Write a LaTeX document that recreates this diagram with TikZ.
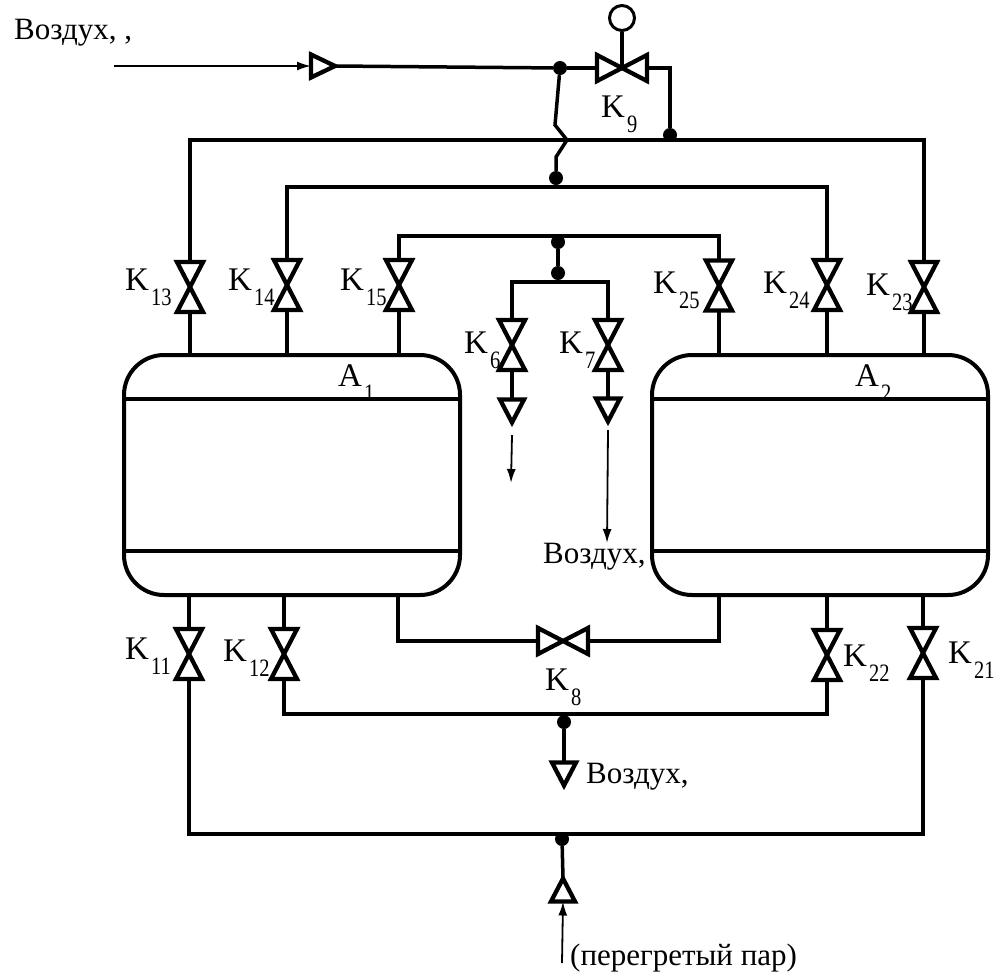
\documentclass[tikz,border=0pt]{standalone}
\usepackage{fontspec}
\setmainfont{Liberation Serif}
\usepackage{graphicx}
\usepackage{tikz}
\usetikzlibrary{arrows.meta}
\newcommand{\idx}[1]{\kern2pt\raisebox{-15pt}{\scalebox{.82}[1]{\fontsize{25}{25}\selectfont #1}}}

\begin{document}
\begin{tikzpicture}[x=1pt,y=-1pt,font=\fontsize{31}{33}\selectfont]
	\tikzstyle{pipe}=[line width=3.5pt]
	\tikzstyle{body}=[line width=4.3pt]
	\tikzstyle{thin flow}=[line width=1.8pt,-{Latex[length=14pt,width=9pt]}]
	\tikzstyle{vertex}=[circle,fill=black,minimum size=14pt,inner sep=0pt]
	\tikzstyle{valve}=[rectangle,inner sep=0pt,outer sep=0pt,minimum width=26pt,minimum height=50pt]
	\tikzstyle{valve h}=[valve,minimum width=50pt,minimum height=26pt]
	\tikzstyle{check}=[rectangle,inner sep=0pt,outer sep=0pt,minimum width=24pt,minimum height=23pt]
	\tikzstyle{shell}=[draw=black,rectangle,rounded corners=40pt,line width=4pt,minimum width=336pt,minimum height=240pt,inner sep=0pt,outer sep=0pt]
	\tikzstyle{gauge}=[draw=black,circle,line width=3pt,minimum size=25pt,inner sep=0pt]
	\tikzstyle{lbl}=[anchor=base west,inner sep=0pt]
	\tikzstyle{tag}=[lbl,font=\fontsize{33}{35}\selectfont]
	\useasboundingbox (0,0) rectangle (1000,978);

	% Draw the adsorbers
	\node[shell] (a1) at (292,475) {};
	\node[shell] (a2) at (820,475) {};
	\foreach \t in {a1,a2} {
		\draw[pipe] ([yshift=-44pt]\t.north west) -- ([yshift=-44pt]\t.north east);
		\draw[pipe] ([yshift=44pt]\t.south west) -- ([yshift=44pt]\t.south east);
	}

	% Draw the valves
	\node[valve] (k13) at (190,287) {};
	\node[valve] (k14) at (287,285) {};
	\node[valve] (k15) at (399,285) {};
	\node[valve] (k25) at (719,285.5) {};
	\node[valve] (k24) at (827,285) {};
	\node[valve] (k23) at (924,287) {};
	\node[valve] (k6) at (512,345) {};
	\node[valve] (k7) at (608,345) {};
	\node[valve] (k11) at (189,654) {};
	\node[valve] (k12) at (284,654) {};
	\node[valve] (k22) at (827,655) {};
	\node[valve] (k21) at (923,653) {};
	\node[valve h] (k9) at (622,68) {};
	\node[valve h] (k8) at (563,641) {};
	\foreach \v in {k13,k14,k15,k25,k24,k23,k6,k7,k11,k12,k22,k21}
		\draw[body] (\v.north west) -- (\v.north east) -- (\v.south west) -- (\v.south east) -- cycle;
	\foreach \v in {k9,k8}
		\draw[body] (\v.north west) -- (\v.south west) -- (\v.north east) -- (\v.south east) -- cycle;

	% Draw the one-way triangles
	\node[check] (in_air) at (323,66) {};
	\node[check] (out_k6) at (512,411) {};
	\node[check] (out_k7) at (608,410) {};
	\node[check] (out_k12) at (564,774) {};
	\node[check] (in_steam) at (563,890) {};
	\draw[body] (in_air.north west) -- (in_air.east) -- (in_air.south west) -- cycle;
	\foreach \c in {out_k6,out_k7,out_k12}
		\draw[body] (\c.north west) -- (\c.north east) -- (\c.south) -- cycle;
	\draw[body] (in_steam.south west) -- (in_steam.south east) -- (in_steam.north) -- cycle;

	% Draw the junctions
	\node[vertex] (j_air) at (560,68) {};
	\node[vertex] (j_k9) at (670,135) {};
	\node[vertex] (j_two) at (556,178) {};
	\node[vertex] (j_three) at (558,242) {};
	\node[vertex] (j_vent) at (558,273) {};
	\node[vertex] (j_low) at (564,722) {};
	\node[vertex] (j_steam) at (562,839) {};
	\node[gauge] (gauge_k9) at (622,18) {};
	\coordinate (top1) at (556,140);
	\coordinate (top2) at (556,187);
	\coordinate (top3) at (558,236);
	\coordinate (top6) at (558,282);
	\coordinate (low1) at (564,714);
	\coordinate (low2) at (562,834);
	\coordinate (bend_a) at (555,125);
	\coordinate (bend_b) at (567,140);
	\coordinate (bend_c) at (556,157);
	\coordinate (src) at (114,66);
	\coordinate (end_k6) at (512,435);
	\coordinate (tip_k6) at (511,483);
	\coordinate (end_k7) at (608,430);
	\coordinate (tip_k7) at (607,543);
	\coordinate (src_steam) at (562,963);
	\coordinate (k8_l) at (398,595);
	\coordinate (k8_r) at (719,595);

	% Draw the headers
	\draw[pipe] (k13.north) |- (top1) -| (k23.north);
	\draw[pipe] (k14.north) |- (top2) -| (k24.north);
	\draw[pipe] (k15.north) |- (top3) -| (k25.north);
	\draw[pipe] (k6.north) |- (top6) -| (k7.north);
	\draw[pipe] (k11.south) |- (low2) -| (k21.south);
	\draw[pipe] (k12.south) |- (low1) -| (k22.south);
	\draw[pipe] (k8_l) |- (k8.west);
	\draw[pipe] (k8_r) |- (k8.east);
	\draw[pipe] (j_air) -- (bend_a) -- (bend_b) -- (bend_c) -- (j_two);
	\draw[pipe] (k9.east) -| (j_k9);

	% Draw arrows
	\path[pipe] (k13.south) edge (k13.south |- a1.north);
	\path[pipe] (k14.south) edge (k14.south |- a1.north);
	\path[pipe] (k15.south) edge (k15.south |- a1.north);
	\path[pipe] (k25.south) edge (k25.south |- a2.north);
	\path[pipe] (k24.south) edge (k24.south |- a2.north);
	\path[pipe] (k23.south) edge (k23.south |- a2.north);
	\path[pipe] (k11.north) edge (k11.north |- a1.south);
	\path[pipe] (k12.north) edge (k12.north |- a1.south);
	\path[pipe] (k22.north) edge (k22.north |- a2.south);
	\path[pipe] (k21.north) edge (k21.north |- a2.south);
	\path[pipe] (in_air.east) edge (j_air);
	\path[pipe] (j_air) edge (k9.west);
	\path[pipe] (gauge_k9) edge (k9.center);
	\path[pipe] (j_three) edge (j_vent);
	\path[pipe] (k6.south) edge (out_k6.north);
	\path[pipe] (k7.south) edge (out_k7.north);
	\path[pipe] (j_low) edge (out_k12.north);
	\path[pipe] (j_steam) edge (in_steam.north);
	\path[thin flow] (src) edge (in_air.west);
	\path[thin flow] (end_k6) edge (tip_k6);
	\path[thin flow] (end_k7) edge (tip_k7);
	\path[thin flow] (src_steam) edge (in_steam.south);

	% Annotate the valves
	\node[tag] (l13) at (125,290) {K\idx{13}};
	\node[tag] (l14) at (228,290) {K\idx{14}};
	\node[tag] (l15) at (340,290) {K\idx{15}};
	\node[tag] (l25) at (653,293) {K\idx{25}};
	\node[tag] (l24) at (763,293) {K\idx{24}};
	\node[tag] (l23) at (866,295) {K\idx{23}};
	\node[tag] (l6) at (464,353) {K\idx{6}};
	\node[tag] (l7) at (559,353) {K\idx{7}};
	\node[tag] (l11) at (125,659) {K\idx{11}};
	\node[tag] (l12) at (223,661) {K\idx{12}};
	\node[tag] (l22) at (843,666) {K\idx{22}};
	\node[tag] (l21) at (948,663) {K\idx{21}};
	\node[tag] (l8) at (545,690) {K\idx{8}};
	\node[tag] (l9) at (601,117) {K\idx{9}};
	\node[tag] (la1) at (338,386) {A\idx{1}};
	\node[tag] (la2) at (855,386) {A\idx{2}};

	% Annotate the flows
	\node[lbl] (air_in) at (14,39) {Воздух, ,};
	\node[lbl] (air_k7) at (543,563) {Воздух,};
	\node[lbl] (air_low) at (586,783) {Воздух,};
	\node[lbl] (steam) at (570,965) {(перегретый пар)};
\end{tikzpicture}
\end{document}
